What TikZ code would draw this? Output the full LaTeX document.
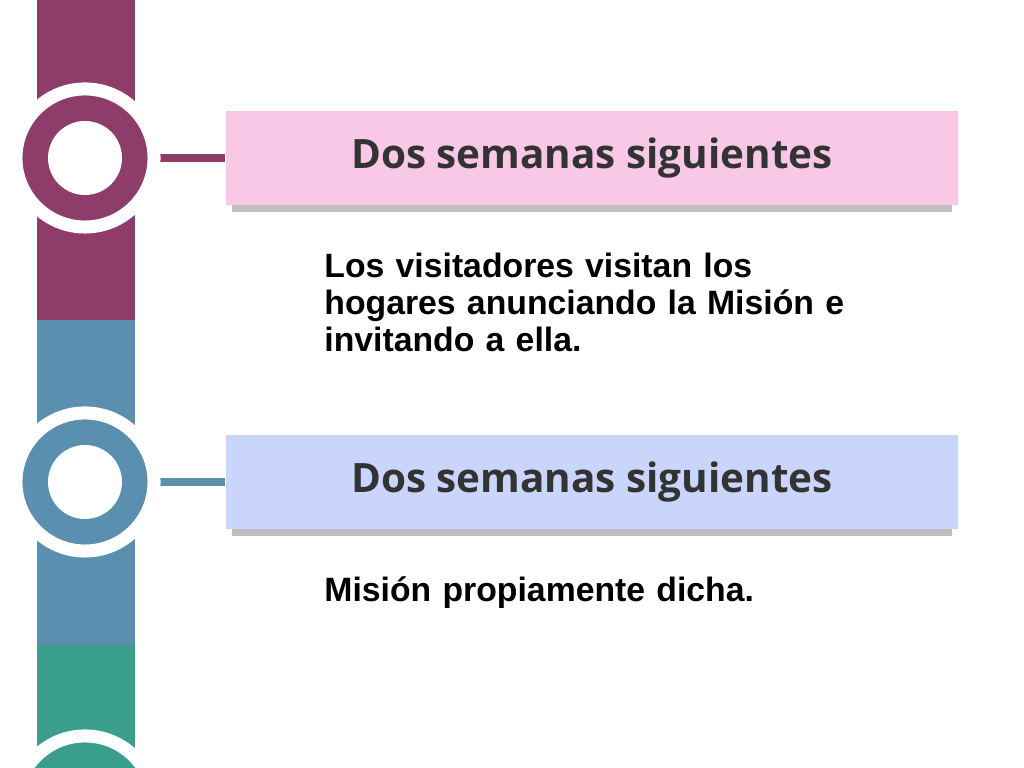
\documentclass[tikz,border=0pt]{standalone}
\usepackage{fontspec}
\setmainfont{Liberation Sans}
\newfontfamily\titlefont{Open Sans}
\usetikzlibrary{positioning}
\definecolor{plum}{HTML}{8E3D6B}
\definecolor{steel}{HTML}{5A8FB0}
\definecolor{teal2}{HTML}{3A9E8C}
\definecolor{pinkbox}{HTML}{F9C8E6}
\definecolor{bluebox}{HTML}{C9D5FB}
\begin{document}
\begin{tikzpicture}[x=0.01cm,y=-0.01cm,
            ring/.style={circle, draw=white, line width=0.13cm, minimum size=1.38cm, inner sep=0pt},
            banner/.style={minimum width=7.32cm, minimum height=0.93cm, inner sep=0pt,
                           font=\titlefont\bfseries\fontsize{11.5}{13}\selectfont, text=black!80},
            body/.style={anchor=north west, align=left, text width=6.3cm,
                         font=\bfseries\fontsize{9.6}{10.4}\selectfont}]
        \useasboundingbox (0,0) rectangle (1024,768);
        \fill[plum] (37,0) rectangle (135,320);
        \fill[steel] (37,320) rectangle (135,645);
        \fill[teal2] (37,645) rectangle (135,768);

        % first step
        \fill[gray!50] (232,122) rectangle (952,212);
        \node[banner, fill=pinkbox] (b1) at (592,158) {Dos semanas siguientes};
        \draw[plum, line width=0.08cm] (85,158) -- (b1.west);
        \node[ring, fill=plum] (r1) at (85,158) {};
        \fill[white] (r1.center) circle (37);
        \node[body] (t1) at (312,241) {Los visitadores visitan los\\hogares anunciando la Misión e\\invitando a ella.};

        % second step
        \fill[gray!50] (232,446) rectangle (952,536);
        \node[banner, fill=bluebox] (b2) at (592,482) {Dos semanas siguientes};
        \draw[steel, line width=0.08cm] (85,482) -- (b2.west);
        \node[ring, fill=steel] (r2) at (85,482) {};
        \fill[white] (r2.center) circle (37);
        \node[body] (t2) at (312,564) {Misión propiamente dicha.};

        % third step (cut off)
        \node[ring, fill=teal2] (r3) at (85,805) {};
        \fill[white] (r3.center) circle (37);
    \end{tikzpicture}
\end{document}
